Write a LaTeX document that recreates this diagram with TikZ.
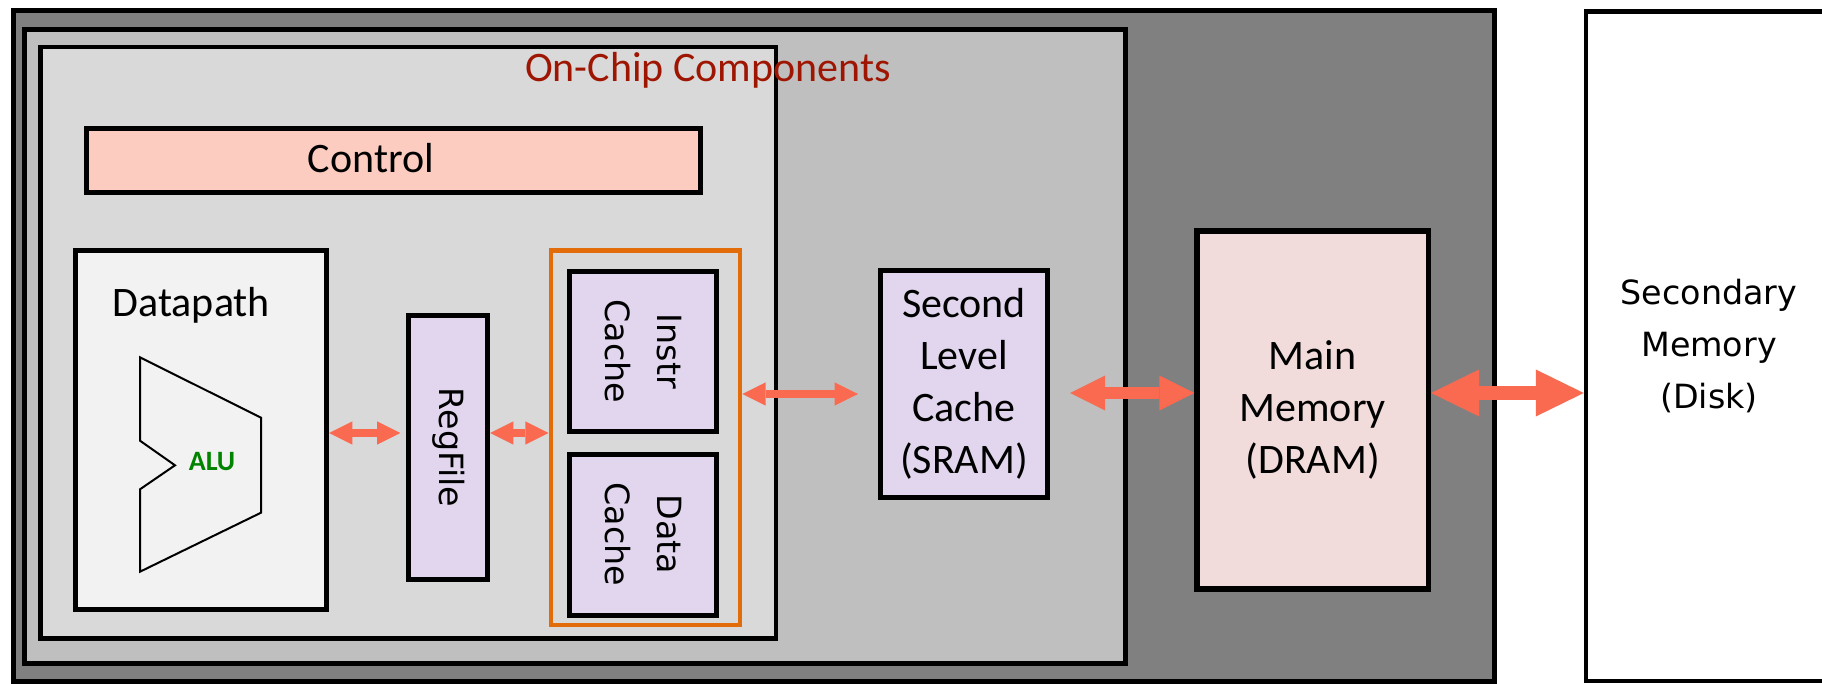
\documentclass[tikz,border=0pt]{standalone}
\usepackage{fontspec}
\setmainfont{Carlito}
\newfontfamily\verdfont{DejaVu Sans}
\usetikzlibrary{arrows.meta,calc}

\definecolor{chipgray}{RGB}{128,128,128}
\definecolor{zonegray}{RGB}{191,191,191}
\definecolor{coregray}{RGB}{217,217,217}
\definecolor{ctrlpink}{RGB}{252,204,193}
\definecolor{dpwhite}{RGB}{242,242,242}
\definecolor{cachelilac}{RGB}{225,214,238}
\definecolor{drampink}{RGB}{242,220,219}
\definecolor{busred}{RGB}{249,106,81}
\definecolor{grouporange}{RGB}{227,108,10}
\definecolor{onchipred}{RGB}{158,22,2}
\definecolor{alugreen}{RGB}{0,132,0}

\tikzset{every picture/.style={line width=0.75pt}}
\tikzset{
  blk/.style={draw=black, line width=3.75pt, inner sep=0pt},
  caltext/.style={font=\fontsize{31.5}{39}\selectfont, align=center, inner sep=0pt},
  vertext/.style={font=\verdfont\fontsize{25}{39}\selectfont, align=center, inner sep=0pt},
  thinbus/.style={busred, line width=6.2pt, {Triangle[length=17.6pt,width=17.5pt,line width=0pt]}-{Triangle[length=17.6pt,width=17.5pt,line width=0pt]}},
  midbus/.style={busred, line width=9.5pt, {Triangle[length=26.3pt,width=26.3pt,line width=0pt]}-{Triangle[length=26.3pt,width=26.3pt,line width=0pt]}},
  widebus/.style={busred, line width=10.5pt, {Triangle[length=36pt,width=35.3pt,line width=0pt]}-{Triangle[length=36pt,width=35.3pt,line width=0pt]}}
}

\begin{document}
\begin{tikzpicture}[x=0.75pt,y=0.75pt,yscale=-1,xscale=1]
\useasboundingbox (0,0) rectangle (1822,684);
\clip (0,0) rectangle (1822,684);

% containers
\node [blk, fill=chipgray, minimum width=1110.75pt, minimum height=502.9pt] (chip) at (754,345.75) {};
\node [blk, line width=3.5pt, fill=zonegray, minimum width=825.7pt, minimum height=475.35pt] (zone) at (575.05,346.6) {};
\node [blk, line width=3.5pt, fill=coregray, minimum width=551.6pt, minimum height=443.6pt] (core) at (408.25,342.75) {};
\node [caltext, text=onchipred, anchor=base] (corelbl) at (708,81.7) {On-Chip Components};

% control and datapath
\node [blk, fill=ctrlpink, minimum width=460.5pt, minimum height=48pt] (ctrl) at (393,160.5) {};
\node [caltext, anchor=base] (ctrllbl) at (371,172.3) {Control};
\node [blk, fill=dpwhite, minimum width=188.25pt, minimum height=269.25pt] (dp) at (201,430) {};
\node [caltext, anchor=base] (dplbl) at (191.3,316.7) {Datapath};

% ALU outline
\draw [line width=1.5pt, line join=miter] (140,357.3) -- (261,417.7) -- (261,512.7) -- (140,571.7) -- (140,489.3) -- (175,465.3) -- (140,440.7) -- cycle;
\node [caltext, anchor=base, text=alugreen, font=\bfseries\fontsize{21}{25}\selectfont] (alulbl) at (212,470) {ALU};

% register file and L1 caches
\node [blk, fill=cachelilac, minimum width=58.9pt, minimum height=198pt] (rf) at (448.25,447.5) {};
\node [vertext, rotate=-90] (rflbl) at (rf) {RegFile};
\node [draw=grouporange, line width=3.4pt, inner sep=0pt, minimum width=141.75pt, minimum height=280.9pt] (lone) at (645.5,437.75) {};
\node [blk, fill=cachelilac, minimum width=109.9pt, minimum height=120pt] (icache) at (643.25,351.5) {};
\node [vertext, rotate=-90] (icachelbl) at (icache) {Instr\\Cache};
\node [blk, fill=cachelilac, minimum width=109.9pt, minimum height=120.75pt] (dcache) at (643.25,534.5) {};
\node [vertext, rotate=-90] (dcachelbl) at (dcache) {Data\\Cache};

% second level, main and secondary memory
\node [blk, fill=cachelilac, minimum width=125.25pt, minimum height=170.25pt, caltext] (sram) at (964,384) {Second\\Level\\Cache\\(SRAM)};
\node [blk, line width=4pt, fill=drampink, minimum width=173.6pt, minimum height=268.5pt, caltext] (dram) at (1312.75,410) {Main\\Memory\\(DRAM)};
\node [blk, line width=3.4pt, fill=white, minimum width=184.5pt, minimum height=502.3pt, vertext] (disk) at (1709,346.15) {Secondary\\Memory\\(Disk)};

% buses
\draw [thinbus] ($(dp.east)+(0,3)$) -- ($(dp.east -| rf.west)+(-6,3)$);
\draw [thinbus] ($(rf.east)+(0,-14.5)$) -- ($(rf.east -| lone.west)+(0,-14.5)$);
\draw [thinbus] ($(lone.east)+(0,-43.75)$) -- ($(lone.east -| sram.west)+(-20,-43.75)$);
\draw [midbus] ($(sram.east)+(20,9)$) -- ($(sram.east -| dram.west)+(0,9)$);
\draw [widebus] ($(dram.east)+(0,-17)$) -- ($(dram.east -| disk.west)+(0,-17)$);

\end{tikzpicture}
\end{document}
